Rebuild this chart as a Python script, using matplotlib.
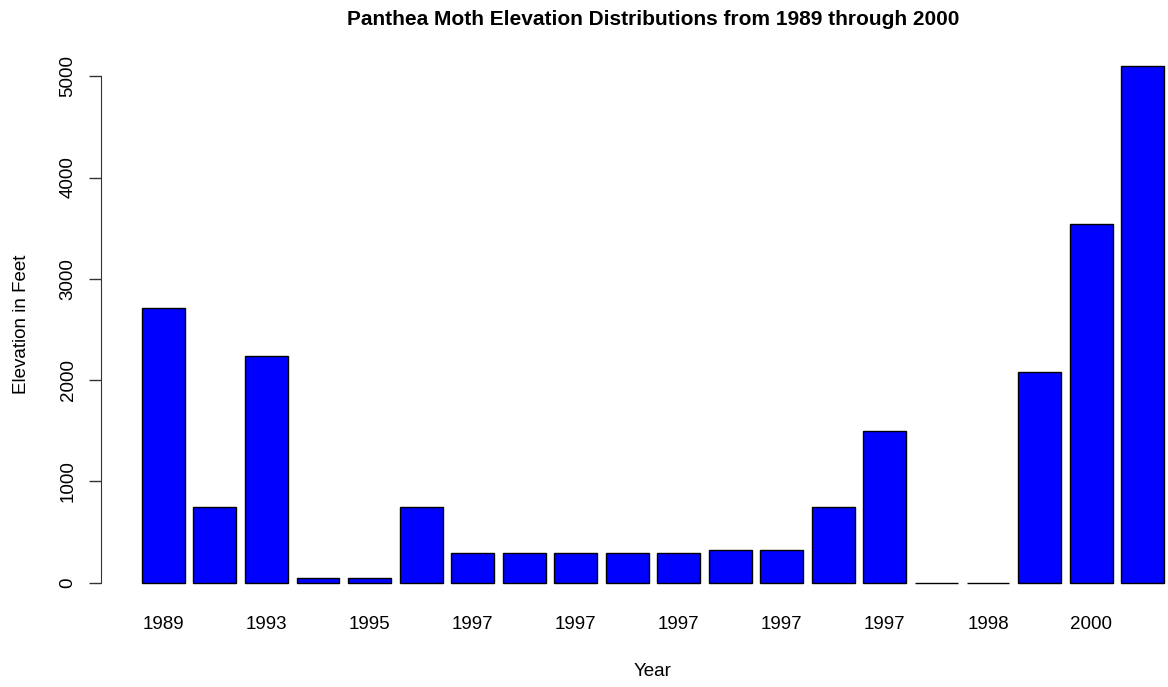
import matplotlib
matplotlib.use('Agg')
import matplotlib.pyplot as plt

# bar heights (feet)
elevations = [2710, 750, 2240, 50, 50, 750, 290, 290, 290, 290,
              290, 320, 320, 750, 1500, 0, 0, 2080, 3540, 5100]
years = ['1989', '1991', '1993', '1994', '1995', '1996', '1997', '1997', '1997', '1997',
         '1997', '1997', '1997', '1997', '1997', '1998', '1998', '1999', '2000', '2000']
yticks = [0, 1000, 2000, 3000, 4000, 5000]

plt.rcParams['font.family'] = ['Liberation Sans', 'DejaVu Sans']

W, H = 1168, 687
fig = plt.figure(figsize=(W / 100, H / 100), dpi=100)
# plot region like R's barplot (runs past the right edge in the original)
left, right, top, bottom = 101, 1205, 45.4, 603.4
ax = fig.add_axes([left / W, 1 - bottom / H, (right - left) / W, (bottom - top) / H])

pos = [0.7 + 1.2 * i for i in range(len(elevations))]
ax.bar(pos, elevations, width=1.0, color='#0000ff', edgecolor='black', linewidth=1.0)

xr = pos[-1] + 0.5 - (pos[0] - 0.5)
ax.set_xlim(pos[0] - 0.5 - 0.04 * xr, pos[-1] + 0.5 + 0.04 * xr)
ymax = max(elevations)
ax.set_ylim(-0.04 * ymax, ymax * 1.04)

# R drops overlapping names, so only every other one is shown
ax.set_xticks(pos[::2])
ax.set_xticklabels(years[::2], fontsize=13.5)
ax.tick_params(axis='x', length=0, pad=9)

ax.set_yticks(yticks)
ax.set_yticklabels([str(v) for v in yticks], fontsize=13.5, rotation=90, va='center')
ax.tick_params(axis='y', length=9, width=1, color='#333333', pad=8.5)

for s in ['top', 'right', 'bottom']:
    ax.spines[s].set_visible(False)
ax.spines['left'].set_bounds(0, 5000)
ax.spines['left'].set_color('#333333')

ax.set_xlabel('Year', fontsize=13.5, labelpad=22)
ax.set_ylabel('Elevation in Feet', fontsize=13.5, labelpad=21.5)
ax.set_title('Panthea Moth Elevation Distributions from 1989 through 2000',
             fontsize=15, fontweight='bold', pad=14.5)

fig.savefig('out.png', dpi=100)
